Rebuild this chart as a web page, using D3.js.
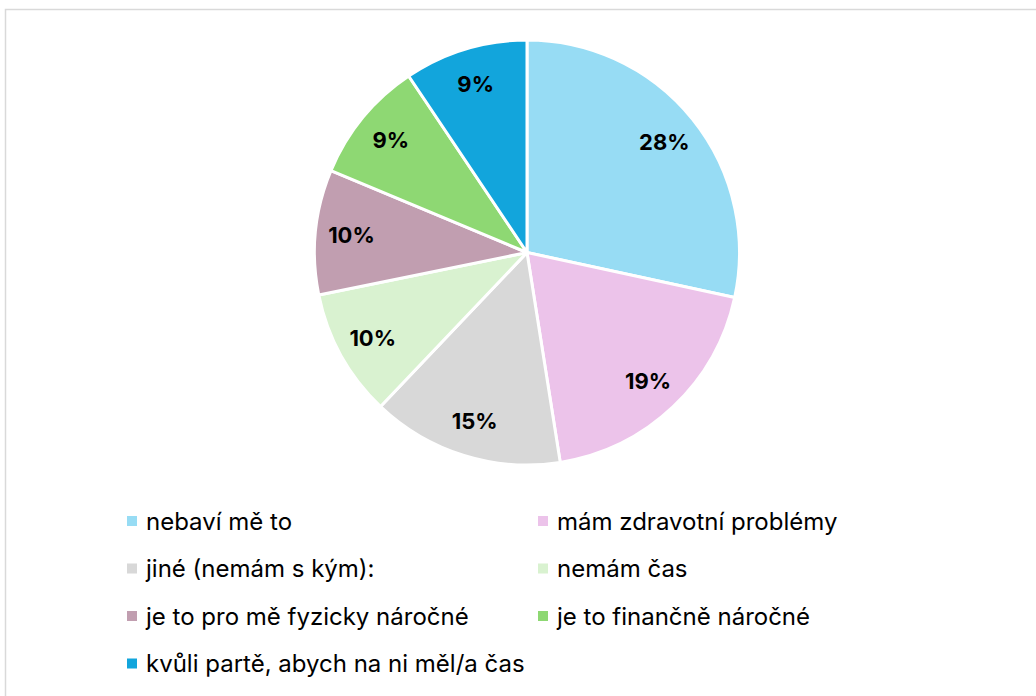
<!DOCTYPE html>
<html><head><meta charset="utf-8">
<script src="https://cdn.jsdelivr.net/npm/d3@7"></script>
<style>body{margin:0;background:#fff;}svg{display:block;}</style>
</head><body>
<svg id="chart" width="1036" height="696"></svg>
<script>
const categories = ["nebaví mě to","mám zdravotní problémy","jiné (nemám s kým):","nemám čas","je to pro mě fyzicky náročné","je to finančně náročné","kvůli partě, abych na ni měl/a čas"];
const values = [28.4, 19.1, 14.6, 9.7, 9.5, 9.3, 9.4];
const colors = ["#97DCF4","#ECC3EA","#D8D8D8","#D9F2D0","#C19EB0","#8ED873","#12A5DC"];

const svg = d3.select("#chart");
svg.append("rect").attr("x",5.5).attr("y",9.5).attr("width",1040).attr("height",700)
  .attr("fill","#fff").attr("stroke","#d9d9d9").attr("stroke-width",1.5);

const cx = 527, cy = 252.5, R = 212.5;
const total = d3.sum(values);
const pie = d3.pie().sort(null).value(d=>d)(values);
const arc = d3.arc().innerRadius(0).outerRadius(R);
const labelArc = d3.arc().innerRadius(R*0.83).outerRadius(R*0.83);
const g = svg.append("g").attr("transform",`translate(${cx},${cy})`);
g.selectAll("path").data(pie).join("path")
  .attr("d",arc).attr("fill",(d,i)=>colors[i])
  .attr("stroke","#fff").attr("stroke-width",3).attr("stroke-linejoin","round");
g.selectAll("text").data(pie).join("text")
  .attr("transform",d=>`translate(${labelArc.centroid(d)})`)
  .attr("text-anchor","middle").attr("dy","0.36em")
  .attr("font-family","Inter, 'Open Sans', sans-serif").attr("font-weight",700).attr("font-size",22)
  .attr("fill","#000")
  .text(d=>Math.round(d.data/total*100)+"%");

const colX = [127, 538];
const rowY = d3.scaleLinear().domain([0,1]).range([521, 568.5]);
const leg = svg.append("g");
categories.forEach((c,i)=>{
  const col = i%2, row = Math.floor(i/2);
  const y = rowY(row);
  leg.append("rect").attr("x",colX[col]).attr("y",y-5).attr("width",10).attr("height",10).attr("fill",colors[i]);
  leg.append("text").attr("x",colX[col]+19).attr("y",y).attr("dy","0.36em")
    .attr("font-family","Inter, 'Open Sans', sans-serif").attr("font-size",24).attr("fill","#000")
    .text(c);
});
</script>
</body></html>
